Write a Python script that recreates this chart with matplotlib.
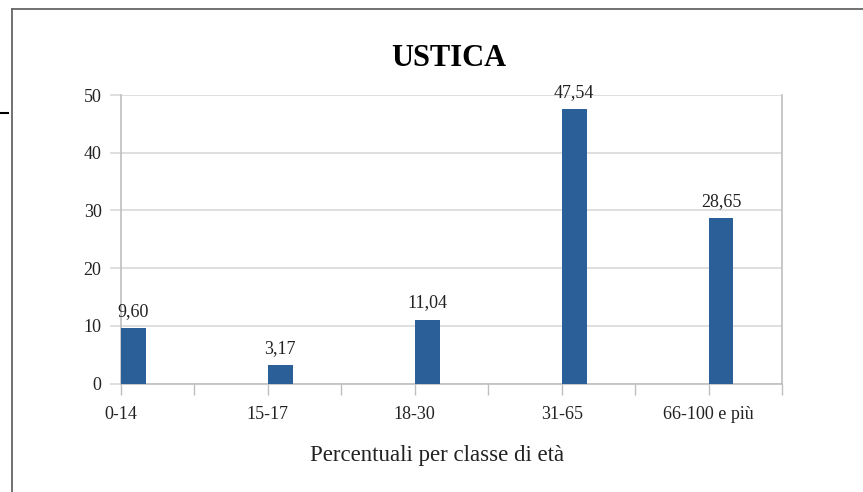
import numpy as np
import matplotlib.pyplot as plt
from matplotlib.lines import Line2D

# dati Ustica
classi = ["0-14", "15-17", "18-30", "31-65", "66-100 e più"]
valori = [9.60, 3.17, 11.04, 47.54, 28.65]
etichette = ["9,60", "3,17", "11,04", "47,54", "28,65"]
yticks = [0, 10, 20, 30, 40, 50]

plt.rcParams['font.family'] = ['Liberation Serif', 'DejaVu Serif']

fig = plt.figure(figsize=(8.63, 4.92), dpi=100)
ax = fig.add_axes([0.1402, 0.2205, 0.7659, 0.5864])

grigio = "#BFBFBF"
blu = "#2B5F97"

# le categorie stanno ogni 2 posizioni (colonne vuote in mezzo)
pos = np.arange(len(classi)) * 2
ax.bar(pos, valori, width=0.34, align="edge", color=blu, zorder=3)

for p, v, t in zip(pos, valori, etichette):
    ax.annotate(t, (p + 0.17, v), xytext=(0, 6), textcoords="offset points",
                ha="center", va="bottom", fontsize=13, color="#222222")

ax.set_xlim(0, 9)
ax.set_ylim(0, 50)
ax.set_xticks(np.arange(0, 10))
ax.set_xticklabels([classi[i // 2] if i % 2 == 0 else "" for i in range(10)])
ax.set_yticks(yticks)
ax.set_yticklabels([str(y) for y in yticks])

ax.grid(axis="y", color="#D9D9D9", linewidth=1.2, zorder=0)
ax.tick_params(axis="x", length=8, width=1, color=grigio, pad=8,
               labelsize=13, labelcolor="#222222")
ax.tick_params(axis="y", length=8, width=1.2, color="#D9D9D9", pad=6,
               labelsize=13, labelcolor="#222222")

for s in ["left", "right", "bottom"]:
    ax.spines[s].set_color(grigio)
    ax.spines[s].set_linewidth(1.2)
ax.spines["top"].set_visible(False)

fig.text(0.520, 1 - 58 / 492, "USTICA", ha="center", va="center",
         fontsize=22, fontweight="bold")
fig.text(0.507, 1 - 455 / 492, "Percentuali per classe di età",
         ha="center", va="center", fontsize=16.5, color="#222222")

# cornice del grafico
fig.add_artist(Line2D([12 / 863, 12 / 863], [0, 1 - 9 / 492],
                      color="#666666", linewidth=1.3))
fig.add_artist(Line2D([12 / 863, 1], [1 - 9 / 492, 1 - 9 / 492],
                      color="#666666", linewidth=1.3))
fig.add_artist(Line2D([0, 8 / 863], [1 - 113 / 492, 1 - 113 / 492],
                      color="black", linewidth=1.5))

fig.savefig("out.png", dpi=100)
